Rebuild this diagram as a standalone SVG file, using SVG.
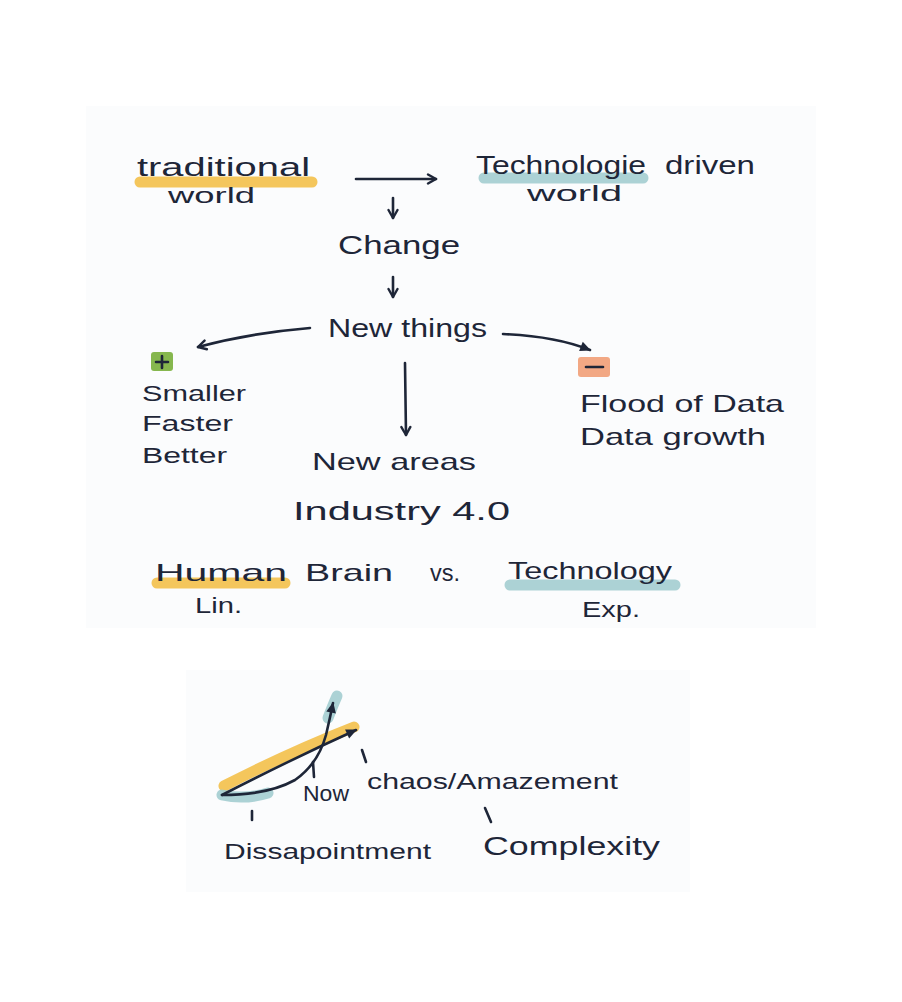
<svg xmlns="http://www.w3.org/2000/svg" width="902" height="1002" viewBox="0 0 902 1002">
  <defs>
    <style>
      .ink { font-family: "Liberation Sans", "DejaVu Sans", sans-serif; fill: #1e2638; font-size: 24px; }
      .big { font-size: 26px; }
      .small { font-size: 22px; }
      .line { fill: none; stroke: #1e2638; stroke-width: 2.6; stroke-linecap: round; stroke-linejoin: round; }
      .hl-yellow { fill: none; stroke: #f3c04a; stroke-width: 11; stroke-linecap: round; opacity: 0.9; }
      .hl-teal { fill: none; stroke: #a3cdd0; stroke-width: 11; stroke-linecap: round; opacity: 0.9; }
    </style>
    <marker id="arrow" viewBox="0 0 12 12" refX="10" refY="6" markerWidth="12" markerHeight="12" markerUnits="userSpaceOnUse" orient="auto">
      <path d="M2,1.5 L10,6 L2,10.5" fill="none" stroke="#1e2638" stroke-width="2.4" stroke-linecap="round" stroke-linejoin="round"/>
    </marker>
    <marker id="arrow-solid" viewBox="0 0 12 12" refX="10" refY="6" markerWidth="13" markerHeight="13" markerUnits="userSpaceOnUse" orient="auto">
      <path d="M1,1.5 L11,6 L1,10.5 Z" fill="#1e2638"/>
    </marker>
  </defs>

  <!-- paper sheets -->
  <rect x="0" y="0" width="902" height="1002" fill="#ffffff"/>
  <rect x="86" y="106" width="730" height="522" fill="#fbfcfd"/>
  <rect x="186" y="670" width="504" height="222" fill="#fbfcfd"/>

  <!-- connectors -->
  <g id="connectors">
    <path class="line" d="M356,179 L436,179" marker-end="url(#arrow)"/>
    <path class="line" d="M393,198 L393,218" marker-end="url(#arrow)"/>
    <path class="line" d="M393,277 L393,297" marker-end="url(#arrow)"/>
    <path class="line" d="M310,328 Q250,333 198,347" marker-end="url(#arrow)"/>
    <path class="line" d="M503,334 Q555,336 590,350" marker-end="url(#arrow-solid)"/>
    <path class="line" d="M405,363 L406,435" marker-end="url(#arrow)"/>
  </g>

  <!-- top row -->
  <g id="node-traditional">
    <path class="hl-yellow" d="M140,182 L312,182"/>
    <text class="ink big" x="137" y="176" textLength="173" lengthAdjust="spacingAndGlyphs">traditional</text>
    <text class="ink small" x="168" y="203" textLength="87" lengthAdjust="spacingAndGlyphs">world</text>
  </g>

  <g id="node-technologie">
    <path class="hl-teal" d="M484,178 L643,178"/>
    <text class="ink big" x="476" y="174" textLength="170" lengthAdjust="spacingAndGlyphs">Technologie</text>
    <text class="ink big" x="665" y="174" textLength="90" lengthAdjust="spacingAndGlyphs">driven</text>
    <text class="ink small" x="527" y="201" textLength="95" lengthAdjust="spacingAndGlyphs">world</text>
  </g>

  <g id="node-change">
    <text class="ink big" x="338" y="254" textLength="122" lengthAdjust="spacingAndGlyphs">Change</text>
  </g>

  <g id="node-new-things">
    <text class="ink big" x="328" y="337" textLength="159" lengthAdjust="spacingAndGlyphs">New things</text>
  </g>

  <g id="node-plus">
    <rect x="151" y="352" width="22" height="19" rx="3" fill="#86b74e"/>
    <path class="line" d="M156,362 L168,362 M162,356 L162,368"/>
    <text class="ink small" x="142" y="401" textLength="104" lengthAdjust="spacingAndGlyphs">Smaller</text>
    <text class="ink small" x="142" y="431" textLength="91" lengthAdjust="spacingAndGlyphs">Faster</text>
    <text class="ink small" x="142" y="463" textLength="85" lengthAdjust="spacingAndGlyphs">Better</text>
  </g>

  <g id="node-minus">
    <rect x="578" y="357" width="32" height="20" rx="3" fill="#f2a884"/>
    <path class="line" d="M586,367 L603,367"/>
    <text class="ink" x="580" y="412" textLength="204" lengthAdjust="spacingAndGlyphs">Flood of Data</text>
    <text class="ink" x="580" y="445" textLength="186" lengthAdjust="spacingAndGlyphs">Data growth</text>
  </g>

  <g id="node-new-areas">
    <text class="ink" x="312" y="470" textLength="164" lengthAdjust="spacingAndGlyphs">New areas</text>
  </g>

  <g id="node-industry">
    <text class="ink big" x="293" y="520" textLength="217" lengthAdjust="spacingAndGlyphs">Industry 4.0</text>
  </g>

  <g id="node-brain-vs-tech">
    <path class="hl-yellow" d="M157,583 L285,583"/>
    <path class="hl-teal" d="M510,585 L675,585"/>
    <text class="ink" x="155" y="581" textLength="132" lengthAdjust="spacingAndGlyphs">Human</text>
    <text class="ink" x="305" y="581" textLength="88" lengthAdjust="spacingAndGlyphs">Brain</text>
    <text class="ink" x="430" y="581" textLength="30" lengthAdjust="spacingAndGlyphs">vs.</text>
    <text class="ink" x="508" y="579" textLength="164" lengthAdjust="spacingAndGlyphs">Technology</text>
    <text class="ink small" x="195" y="613" textLength="47" lengthAdjust="spacingAndGlyphs">Lin.</text>
    <text class="ink small" x="582" y="617" textLength="58" lengthAdjust="spacingAndGlyphs">Exp.</text>
  </g>

  <!-- growth curves: linear vs exponential -->
  <g id="node-curves">
    <path class="hl-yellow" d="M224,786 Q290,752 354,727" stroke-width="13"/>
    <path class="hl-teal" d="M222,795 Q245,800 268,793" stroke-width="8" opacity="0.7"/>
    <path class="hl-teal" d="M328,718 Q333,705 337,696" stroke-width="8" opacity="0.7"/>
    <path class="line" d="M222,795 Q290,760 356,730" marker-end="url(#arrow-solid)"/>
    <path class="line" d="M222,795 Q268,795 295,780 Q318,764 326,735 Q330,718 333,703" marker-end="url(#arrow-solid)"/>
    <path class="line" d="M313,762 L314,777"/>
    <path class="line" d="M362,750 L366,762"/>
    <path class="line" d="M252,811 L252,820"/>
    <path class="line" d="M485,808 L491,822"/>
    <text class="ink small" x="303" y="801" textLength="46" lengthAdjust="spacingAndGlyphs">Now</text>
    <text class="ink small" x="367" y="789" textLength="251" lengthAdjust="spacingAndGlyphs">chaos/Amazement</text>
    <text class="ink small" x="224" y="859" textLength="207" lengthAdjust="spacingAndGlyphs">Dissapointment</text>
    <text class="ink big" x="483" y="855" textLength="177" lengthAdjust="spacingAndGlyphs">Complexity</text>
  </g>
</svg>
